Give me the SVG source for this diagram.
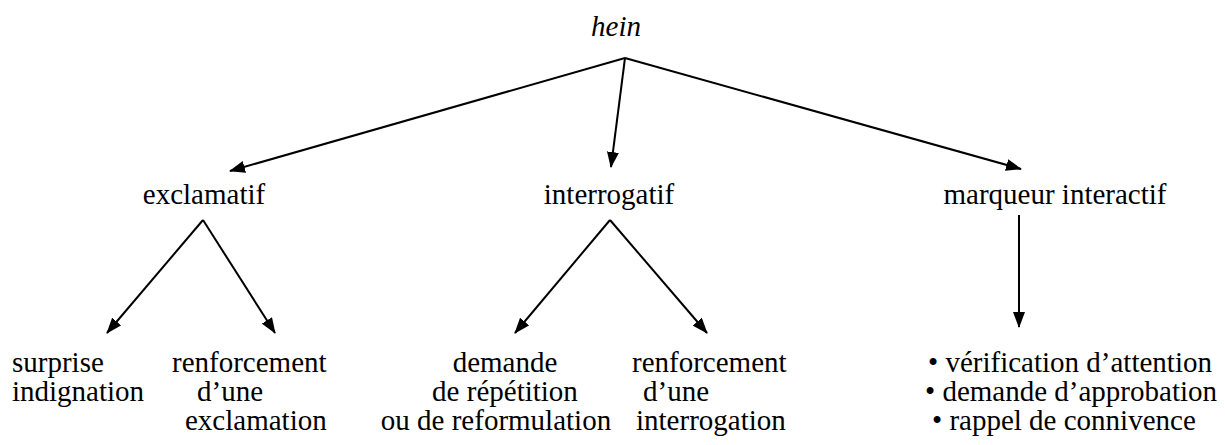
<svg xmlns="http://www.w3.org/2000/svg" width="1225" height="445" viewBox="0 0 1225 445" font-family="'Liberation Serif', 'Times New Roman', serif" font-size="29">
<style>
.it{font-style:italic}
.c{text-anchor:middle}
.ln{stroke:#000;stroke-width:2;fill:none;marker-end:url(#ah)}
</style>
<defs>
<marker id="ah" markerUnits="userSpaceOnUse" markerWidth="16" markerHeight="12" refX="15" refY="6" orient="auto">
<path d="M0,0 L16,6 L0,12 z" fill="#000"/>
</marker>
</defs>
<rect width="1225" height="445" fill="#fff"/>
<g id="connectors">
<line class="ln" x1="625" y1="58" x2="230" y2="171"/>
<line class="ln" x1="625" y1="58" x2="611" y2="167"/>
<line class="ln" x1="625" y1="58" x2="1021" y2="169"/>
<line class="ln" x1="203" y1="220" x2="107" y2="333"/>
<line class="ln" x1="203" y1="220" x2="275" y2="333"/>
<line class="ln" x1="610" y1="220" x2="515" y2="333"/>
<line class="ln" x1="610" y1="220" x2="707" y2="333"/>
<line class="ln" x1="1019" y1="215" x2="1019" y2="327"/>
</g>
<g id="hein"><text class="it c" x="616" y="36">hein</text></g>
<g id="exclamatif"><text class="c" x="204" y="204">exclamatif</text></g>
<g id="interrogatif"><text class="c" x="609" y="204">interrogatif</text></g>
<g id="marqueur"><text class="c" x="1055" y="204">marqueur interactif</text></g>
<g id="surprise"><text x="12" y="372">surprise</text><text x="12" y="401">indignation</text></g>
<g id="renf-excl"><text x="172" y="372">renforcement</text><text x="197" y="401">d’une</text><text x="185" y="430">exclamation</text></g>
<g id="demande"><text class="c" x="505" y="372">demande</text><text class="c" x="505" y="401">de répétition</text><text class="c" x="496" y="430">ou de reformulation</text></g>
<g id="renf-interr"><text x="632" y="372">renforcement</text><text x="643" y="401">d’une</text><text x="636" y="430">interrogation</text></g>
<g id="bullets"><text x="928" y="372">• vérification d’attention</text><text x="925" y="401">• demande d’approbation</text><text x="932" y="430">• rappel de connivence</text></g>
</svg>
